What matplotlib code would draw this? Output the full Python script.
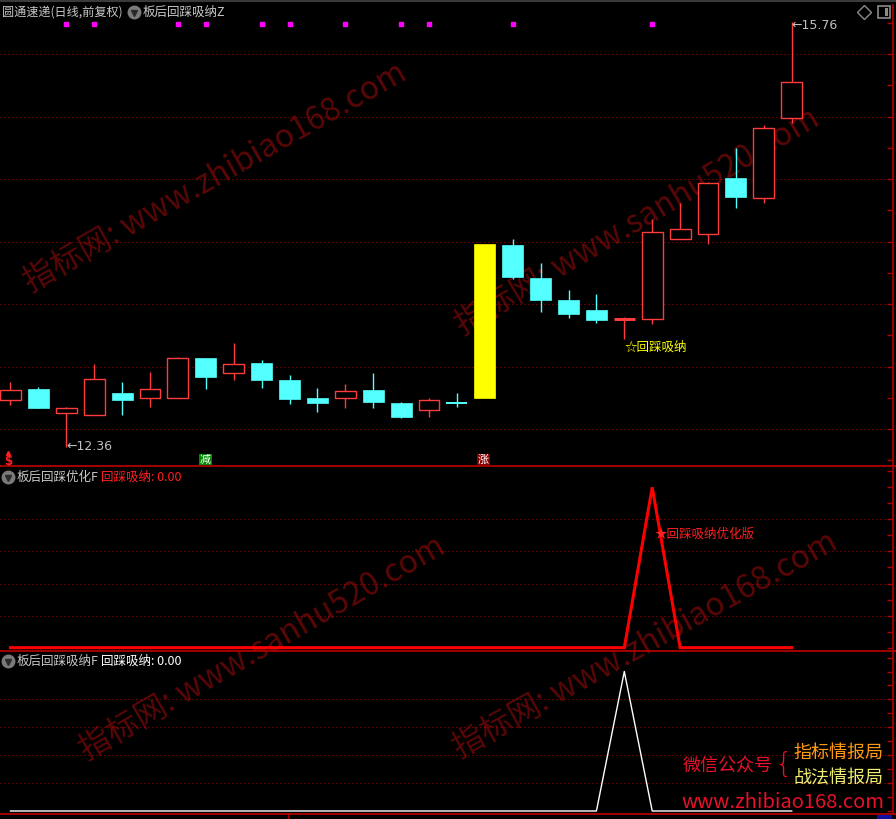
import matplotlib
matplotlib.use('Agg')
import matplotlib.pyplot as plt
from matplotlib.lines import Line2D
from matplotlib.patches import Rectangle

W, H = 896, 819
plt.rcParams['font.family'] = ['Noto Sans CJK SC', 'DejaVu Sans']

# ---------------- data ----------------
opens  = [12.73, 12.82, 12.63, 12.61, 12.79, 12.75, 12.75, 13.07, 12.95, 13.03,
          12.89, 12.75, 12.75, 12.81, 12.71, 12.65, 12.714, 12.75, 13.97, 13.71,
          13.53, 13.45, 13.38, 13.38, 14.02, 14.06, 14.51, 14.35, 14.99]
closes = [12.81, 12.67, 12.67, 12.90, 12.73, 12.82, 13.07, 12.92, 13.02, 12.89,
          12.74, 12.71, 12.80, 12.72, 12.60, 12.73, 12.706, 13.98, 13.72, 13.53,
          13.42, 13.37, 13.38, 14.08, 14.10, 14.47, 14.36, 14.91, 15.28]
highs  = [12.88, 12.84, 12.68, 13.02, 12.88, 12.96, 13.08, 13.07, 13.19, 13.05,
          12.93, 12.83, 12.86, 12.95, 12.72, 12.75, 12.79, 13.98, 14.02, 13.83,
          13.61, 13.58, 13.40, 14.18, 14.31, 14.48, 14.75, 14.93, 15.76]
lows   = [12.69, 12.67, 12.36, 12.61, 12.61, 12.68, 12.80, 12.82, 12.89, 12.83,
          12.70, 12.64, 12.67, 12.67, 12.59, 12.60, 12.68, 12.75, 13.70, 13.44,
          13.39, 13.35, 13.22, 13.34, 14.02, 13.98, 14.27, 14.31, 14.95]
limit_up_days = [17]
signal_dots = [2, 3, 6, 7, 9, 10, 12, 14, 15, 18, 23]
optimized_signal = [0]*23 + [1] + [0]*5      # 板后回踩优化F
pullback_signal  = [0]*22 + [1] + [0]*6      # 板后回踩吸纳F
main_grid = [12.5, 13.0, 13.5, 14.0, 14.5, 15.0, 15.5]
ind_grid = [0.2, 0.4, 0.6, 0.8]
low_label, high_label = "12.36", "15.76"
title_main = "圆通速递(日线,前复权)"
ind_main = "板后回踩吸纳Z"
ind2_name, ind2_val = "板后回踩优化F", "回踩吸纳: 0.00"
ind3_name, ind3_val = "板后回踩吸纳F", "回踩吸纳: 0.00"

UP = '#ff3c3c'
DOWN = '#54ffff'
GRID = '#c00000'
SEP = '#b00000'

fig = plt.figure(figsize=(W/100, H/100), dpi=100, facecolor='black')


def px_axes(x0, y0, x1, y1):
    ax = fig.add_axes([x0/W, 1-y1/H, (x1-x0)/W, (y1-y0)/H])
    ax.set_facecolor('none')
    for s in ax.spines.values():
        s.set_visible(False)
    ax.spines['right'].set_visible(True)
    ax.spines['right'].set_color(SEP)
    ax.spines['right'].set_linewidth(1.2)
    ax.tick_params(axis='y', which='both', right=True, left=False, labelleft=False,
                   labelright=False, direction='in', length=4, color=SEP, width=1)
    ax.tick_params(axis='x', which='both', bottom=False, labelbottom=False)
    return ax


def ftxt(x, y, s, **kw):
    return fig.text(x/W, 1-y/H, s, **kw)


def fline(xs, ys, **kw):
    fig.add_artist(Line2D([x/W for x in xs], [1-y/H for y in ys],
                          transform=fig.transFigure, **kw))


XL = (-0.376, 31.63)
n = len(opens)
xs = list(range(n))

# ---------------- watermarks ----------------
wm = dict(color='#6a0808', fontsize=23, ha='center', va='center',
          rotation_mode='anchor', zorder=-5, alpha=0.85)
ftxt(215, 178, "指标网: www.zhibiao168.com", rotation=29.5, **wm)
ftxt(637, 222, "指标网: www.sanhu520.com", rotation=30.5, **wm)
ftxt(262, 648, "指标网: www.sanhu520.com", rotation=30.0, **wm)
ftxt(645, 645, "指标网: www.zhibiao168.com", rotation=29.0, **wm)

# ---------------- main panel ----------------
ax = px_axes(0, 5, 893, 466)
ax.set_xlim(*XL)
ax.set_ylim(12.204, 15.892)
ax.set_yticks([12.25 + 0.25*k for k in range(15)])
for g in main_grid:
    ax.axhline(g, color=GRID, lw=0.72, linestyle=(0, (1, 3)), zorder=1)

bw = 0.75
for i in xs:
    o, c, h, l = opens[i], closes[i], highs[i], lows[i]
    if i in limit_up_days:
        ax.add_patch(Rectangle((i-bw/2, o), bw, c-o, facecolor='#ffff00',
                               edgecolor='#ffff00', lw=0.5, zorder=3))
        continue
    up = c >= o
    col = UP if up else DOWN
    ax.vlines(i, l, h, color=col, lw=1.0, zorder=2)
    if abs(c - o) < 0.02:
        ax.hlines((o+c)/2, i-bw/2, i+bw/2, color=col,
                  lw=2.2 if up else 1.4, zorder=3)
    elif up:
        ax.add_patch(Rectangle((i-bw/2, o), bw, c-o, facecolor='black',
                               edgecolor=col, lw=1.0, zorder=3))
    else:
        ax.add_patch(Rectangle((i-bw/2, c), bw, o-c, facecolor=col,
                               edgecolor=col, lw=0.5, zorder=3))

# signal dots at top
ax.plot(signal_dots, [15.74]*len(signal_dots), linestyle='none', marker='s',
        markersize=2.6, color='#ff00ff', zorder=4)

# low/high labels
ilo = lows.index(min(lows))
ihi = highs.index(max(highs))
ax.annotate("←" + low_label, xy=(ilo, min(lows)), xytext=(0, 0),
            textcoords='offset points', color='#c0c0c0', fontsize=9,
            ha='left', va='center', family='DejaVu Sans')
ax.annotate("←" + high_label, xy=(ihi, max(highs)), xytext=(0, -3),
            textcoords='offset points', color='#c0c0c0', fontsize=9,
            ha='left', va='center', family='DejaVu Sans')

# signal label
sig = pullback_signal.index(1)
ax.annotate("☆回踩吸纳", xy=(sig, lows[sig]), xytext=(0, -1.5),
            textcoords='offset points', color='#ffff00', fontsize=9,
            ha='left', va='top', family=['Noto Sans CJK SC', 'DejaVu Sans'])

# bottom markers of main panel
ftxt(8, 461, "$", color='#ff2020', fontsize=8.5, ha='center', va='center',
     family='DejaVu Sans', fontweight='bold')
fline([8], [453], marker='^', markersize=3, color='#ff2020', linestyle='none')
ftxt(205.5, 459.5, "减", color='white', fontsize=8, ha='center', va='center',
     bbox=dict(boxstyle='square,pad=0.08', facecolor='#008a00', edgecolor='none'))
ftxt(483.5, 459.5, "涨", color='white', fontsize=8, ha='center', va='center',
     bbox=dict(boxstyle='square,pad=0.08', facecolor='#8a0000', edgecolor='none'))

# ---------------- indicator panel 2 ----------------
ax2 = px_axes(0, 466, 893, 651)
ax2.set_xlim(*XL)
ax2.set_ylim(-0.0206, 1.1328)
ax2.set_yticks([0.1*k for k in range(12)])
for g in ind_grid:
    ax2.axhline(g, color=GRID, lw=0.72, linestyle=(0, (1, 3)), zorder=1)
ax2.plot(xs, optimized_signal, color='#ff0000', lw=2.2, zorder=3,
         solid_joinstyle='miter')
pk2 = optimized_signal.index(1)
ax2.annotate("★回踩吸纳优化版", xy=(pk2, 0.705), xytext=(2, 0),
             textcoords='offset points', color='#ff2020', fontsize=9,
             ha='left', va='center')

# ---------------- indicator panel 3 ----------------
ax3 = px_axes(0, 651, 893, 814)
ax3.set_xlim(*XL)
ax3.set_ylim(-0.0215, 1.147)
ax3.set_yticks([0.1*k for k in range(12)])
for g in ind_grid:
    ax3.axhline(g, color=GRID, lw=0.72, linestyle=(0, (1, 3)), zorder=1)
ax3.plot(xs, pullback_signal, color='white', lw=1.0, zorder=3)

# ---------------- separators / frame ----------------
fline([0, 896], [1, 1], color='#3a3a3a', lw=1.5)
fline([0, 896], [466, 466], color=SEP, lw=1.3)
fline([0, 896], [651, 651], color=SEP, lw=1.3)
fline([0, 896], [814, 814], color=SEP, lw=1.3)
fline([288, 288], [814, 819], color=SEP, lw=1.0)
fig.add_artist(Rectangle((877/W, 0), 15/W, 4/H, transform=fig.transFigure,
                         facecolor='#1010a0', edgecolor='none'))

# ---------------- titles ----------------
ftxt(2, 12, title_main, color='#c8c8c8', fontsize=8.7, ha='left', va='center')
for (cx, cy) in [(134, 12), (8, 477), (8, 661)]:
    fline([cx], [cy], marker='o', markersize=9, color='#7a7a7a', linestyle='none')
    fline([cx], [cy + 0.5], marker='v', markersize=4, color='#2a2a2a', linestyle='none')
ftxt(143, 12, ind_main, color='#c8c8c8', fontsize=9, ha='left', va='center')
ftxt(17, 477, ind2_name, color='#c8c8c8', fontsize=9, ha='left', va='center')
ftxt(101, 477, ind2_val, color='#ff2020', fontsize=9, ha='left', va='center')
ftxt(17, 661, ind3_name, color='#c8c8c8', fontsize=9, ha='left', va='center')
ftxt(101, 661, ind3_val, color='white', fontsize=9, ha='left', va='center')

# top-right icons
fline([864], [12], marker='D', markersize=7, markerfacecolor='none',
      markeredgecolor='#8a8a8a', linestyle='none', markeredgewidth=1)
fline([884], [12], marker='s', markersize=9, markerfacecolor='none',
      markeredgecolor='#8a8a8a', linestyle='none', markeredgewidth=1.2)
fig.add_artist(Rectangle((885/W, 1-16/H), 3/W, 8/H, transform=fig.transFigure,
                         facecolor='#8a8a8a', edgecolor='none'))

# ---------------- promo text ----------------
ftxt(728, 766, "微信公众号", color='#e8102a', fontsize=13, ha='center', va='center')
ftxt(783, 765, "{", color='#e8102a', fontsize=20, ha='center', va='center',
     family='DejaVu Sans', fontweight='light')
ftxt(838, 753, "指标情报局", color='#ff9a10', fontsize=13, ha='center', va='center')
ftxt(838, 778, "战法情报局", color='#eeee70', fontsize=13, ha='center', va='center')
ftxt(783, 803, "www.zhibiao168.com", color='#e8102a', fontsize=14.5,
     ha='center', va='center')

fig.savefig('out.png', dpi=100, facecolor='black')
